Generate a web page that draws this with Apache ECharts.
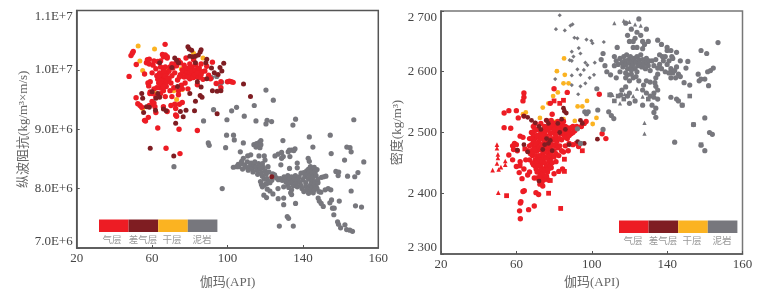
<!DOCTYPE html>
<html><head><meta charset="utf-8">
<style>html,body{margin:0;padding:0;background:#fff}#c{width:769px;height:294px}</style>
<script src="https://cdn.jsdelivr.net/npm/echarts@6/dist/echarts.min.js"></script>
</head><body><div id="c"></div>
<script>
const legendNames = ['气层','差气层','干层','泥岩'];
const xTickLabels = ['20','60','100','140','160'];
const leftYLabels = ['7.0E+6','8.0E+6','9.0E+6','1.0E+7','1.1E+7'];
const rightYLabels = ['2 300','2 400','2 500','2 600','2 700'];

// Left panel: gamma (API), impedance (1E+6)
const leftGas = [[47.8,9.89],[48.8,10.24],[49.5,10.28],[50,10.31],[51.6,10.09],[51.5,9.53],[52.4,9.43],[53.6,9.4],[54.5,9.37],[56,9.15],[56.5,9.14],[56,9.93],[58,9.2],[57,10.12],[57.5,10.17],[58.5,10.18],[58.5,10.1],[57.8,9.78],[58.2,9.73],[58.8,9.6],[59,9.63],[60,9.47],[60.5,9.42],[61,9.44],[61.5,9.38],[62,9.55],[60.5,10.08],[61,10.15],[62,10.02],[62.5,9.9],[63,9.84],[63,10.14],[63.5,9.78],[64,9.95],[64,9.7],[64.5,10.05],[64.5,9.6],[65,9.88],[65,9.8],[65.5,9.92],[65.5,9.75],[66,9.85],[66,10],[66,9.65],[66.5,9.9],[66.5,9.78],[67,9.83],[67,10.05],[67,9.55],[67.5,9.88],[67.5,9.72],[68,9.95],[68,9.8],[68,10.2],[65.5,10.26],[66,10.22],[67,10.25],[68,10.22],[64.5,10.15],[66.9,10.43],[63,9.02],[74.3,9],[84,8.98],[67.4,8.68],[74.8,8.59],[69,9.85],[69,9.98],[69.5,10.05],[69.5,9.65],[70,9.78],[70.5,9.9],[70.5,9.55],[71,10.03],[71.5,9.7],[72,9.95],[72,9.42],[72.5,9.35],[72.5,9.24],[73,9.22],[73,10.07],[73.5,9.83],[74,10.16],[74,9.65],[74.5,9.42],[75,10.12],[75,9.92],[75.5,9.74],[76,9.68],[76.5,9.96],[77,10.08],[77,9.88],[77.5,9.78],[78,10.2],[78,9.95],[78.5,9.9],[79,10.02],[79,9.68],[79.5,9.93],[80,9.85],[80,10.1],[80.5,9.98],[81,9.9],[81,10.05],[81.5,9.95],[82,10.17],[82,9.87],[82.5,9.98],[83,9.92],[83,10.08],[83.5,9.97],[84,9.9],[84,9.75],[84.5,10.02],[85,9.95],[85.5,9.88],[86,10.1],[86.5,9.97],[87,9.84],[88,9.98],[89,10.06],[90,9.91],[91,9.85],[92,10.13],[94,9.77],[96.5,9.7],[96.5,9.8],[100,9.8],[101,9.81],[102,9.8],[103,9.79],[74,9.58],[76,9.45],[70,9.4],[68,9.3],[66,9.38],[62.5,9.7],[60,9.95],[59,9.8],[62,9.28],[58.5,9.4],[64.5,9.82],[65,9.93],[65.5,9.68],[66.5,9.97],[67,9.9],[67,9.75],[68.5,9.86],[63.5,9.9],[64,9.78],[66,9.72],[78.5,9.98],[79.5,10.03],[80,9.95],[81,9.98],[81.5,9.87],[82.5,9.92],[83,10],[84,9.95],[84.5,9.87],[85,10.03],[86,9.92],[79,9.88],[77.5,10.03],[72,10.1],[70.5,10.1],[61,9.68],[60,9.6],[74.5,9.88],[76,10]];
const leftPoor = [[54.5,9.6],[55,9.52],[55.5,9.28],[57,9.38],[58.5,9.37],[59,8.68],[61.8,9.32],[63,9.6],[64,9.54],[66,9.34],[67.5,9.31],[71.5,8.55],[72.5,9.1],[73.5,9.72],[75,9.3],[76.5,9.21],[78,9.32],[82.5,9.31],[83,9.47],[85.5,9.57],[86.5,9.54],[80,9.6],[79,10.39],[79.7,10.35],[81,10.33],[85.5,10.3],[86,10.34],[84.5,10.25],[80,10.23],[81.5,10.22],[83,10.23],[83,10.12],[89,10.18],[88.5,10.12],[91.5,10.03],[93,9.95],[96,10.04],[97,9.98],[98,10.11],[95,9.92],[92,9.65],[94.5,9.64],[96.5,9.65],[94.5,9.26],[108.5,9.76],[112.2,9.55],[123.5,8.2],[72,10.2],[73,10.16],[74,10.12],[70.5,10.04],[64,10.12],[60,9.63],[62,9.52],[86,9.71],[84,9.8],[89,9.85]];
const leftDry = [[52.6,10.4],[61.3,10.35],[53.5,10.15],[55,9.99],[82,10.28],[68,10.02],[75.5,10.02],[76,9.67],[71.5,9.65],[62,9.6],[73,9.5],[55,9.35],[87,10.2]];
const leftMud = [[92.6,9.33],[87.3,9.14],[99.7,9.16],[102.2,9.31],[104.8,9.37],[114.2,9.4],[124.3,9.49],[108.9,9.22],[115.1,9.14],[121,9.15],[120.4,9.09],[123.4,9.13],[136.1,9.17],[134.7,9.07],[167,9.16],[99.5,8.9],[103.2,8.9],[103.6,8.82],[89.8,8.77],[90.3,8.73],[99,8.69],[108.4,8.77],[106.8,8.62],[129.4,8.81],[143.4,8.87],[154.5,8.9],[145.3,8.7],[155,8.59],[163.3,8.7],[165,8.69],[165.6,8.62],[162.1,8.48],[172.3,8.45],[169.2,8.27],[157.5,8.29],[158.7,8.22],[163.7,8.21],[152.2,8.21],[149.9,8.19],[165.6,7.96],[167.9,7.71],[171.1,7.69],[159.3,7.79],[97.2,8],[127.5,7.37],[134.9,7.37],[131.7,7.53],[132.4,7.5],[129.8,7.73],[136.1,7.75],[126.9,7.83],[129.8,7.84],[119.3,7.89],[120.7,7.85],[121.1,7.99],[122.5,7.96],[124.1,7.91],[148.1,7.84],[148.7,7.79],[149.7,7.75],[150.8,7.7],[155.2,7.81],[154.3,7.76],[155.7,7.67],[156.6,7.67],[156.4,7.56],[158.4,7.44],[158.9,7.4],[160,7.34],[162.3,7.39],[163.2,7.31],[164.9,7.3],[166.3,7.28],[149.5,7.94],[151.8,7.98],[153.4,8],[154.8,7.98],[103.1,8.36],[104.8,8.37],[105.7,8.41],[107.5,8.46],[108.4,8.51],[110.7,8.55],[112.3,8.57],[116.7,8.55],[119.5,8.55],[119.9,8.48],[114,8.74],[115.4,8.76],[116.9,8.78],[117.7,8.81],[115.1,8.7],[116.3,8.73],[117.2,8.69],[117.7,8.74],[106,8.37],[107,8.42],[108,8.33],[109,8.4],[110,8.36],[110.5,8.45],[111,8.31],[112,8.38],[112.5,8.43],[113,8.34],[113.5,8.28],[114,8.4],[114.5,8.45],[115,8.36],[115.5,8.31],[116,8.24],[116.5,8.42],[117,8.38],[117.5,8.33],[118,8.27],[118.5,8.21],[118.5,8.42],[119,8.36],[119.5,8.16],[120,8.3],[120.5,8.24],[120.5,8.08],[121,8.17],[121.5,8.37],[122,8.12],[122,8.28],[117.5,8.12],[118,8.07],[118.5,8.03],[119.5,8.06],[121,8.09],[122.5,8.1],[123.5,8.14],[124,8.25],[125,8.23],[126,8.18],[127,8.15],[125.2,8.55],[126.9,8.58],[128.7,8.61],[132.2,8.62],[134,8.65],[135.8,8.67],[128.7,8.51],[129.6,8.54],[133.1,8.54],[132.8,8.65],[135.2,8.64],[128.3,8.4],[132.9,8.34],[137,8.43],[137,8.35],[142.8,8.51],[143.4,8.46],[128,8.17],[129,8.14],[130,8.2],[130.5,8.15],[131,8.11],[131.5,8.18],[132,8.22],[132.5,8.14],[133,8.18],[133.5,8.1],[134,8.2],[134.5,8.13],[135,8.05],[135.5,8.17],[136,8.22],[136.5,8.1],[137,8.03],[137.5,8.16],[138,8.2],[138.5,8.1],[139,8.05],[139,8.26],[139.5,8],[140,8.15],[140.5,8.27],[140.5,7.95],[141,8.2],[141.5,8.1],[141.5,8.04],[142,8.3],[142,7.98],[142.5,8.24],[143,8.33],[143,8.16],[143,7.92],[143.5,8.28],[143.5,8.02],[144,8.37],[144,8.21],[144,8.06],[144.5,8.1],[144.5,7.97],[145,8.32],[145,8.26],[145,8.14],[145,8.02],[145.5,7.93],[145.5,8.2],[146,8.36],[146,8.08],[146,7.98],[146.5,8.28],[146.5,8.12],[147,8.22],[147,8.04],[147.5,8.32],[147.5,8],[148,8.1],[148,8.16],[148.5,7.95],[132,8.06],[134,7.98],[132.5,8.02],[126.8,8],[129.8,8.03],[133.5,7.93],[134,7.9],[91.6,9.87],[94.3,9.89],[96.9,9.79],[96,9.75],[71.6,8.37],[120.4,9.66],[151,8.2],[159,8.28],[167.5,8.2]];

// Right panel: gamma (API), density (kg/m3)
const rightGasDot = [[62.1,2358],[61.7,2371],[66.5,2373],[69.5,2379],[62.4,2386],[62.1,2384],[63.5,2403],[64.2,2404],[70.4,2401],[71.8,2398],[53.5,2532],[56,2536],[60,2536],[53.5,2508],[57,2507],[61,2524],[64,2527],[62,2494],[63.5,2492],[56,2463],[58,2478],[58.5,2472],[59,2482],[60,2480],[60.5,2470],[58,2455],[60,2444],[62,2452],[61.5,2434],[63,2424],[64,2440],[65,2455],[66,2470],[66,2430],[67,2435],[67,2490],[68,2500],[68,2480],[68.5,2462],[69,2447],[69,2510],[69.5,2475],[69.5,2425],[70,2490],[70,2455],[70.5,2505],[70.5,2440],[71,2470],[71,2480],[71,2425],[71.5,2495],[71.5,2460],[72,2450],[72,2485],[72,2435],[72.5,2472],[72.5,2415],[73,2500],[73,2445],[73,2460],[73,2425],[73.5,2480],[73.5,2435],[74,2465],[74,2452],[74,2412],[74.5,2490],[74.5,2440],[75,2510],[75,2472],[75,2425],[75.5,2458],[75.5,2495],[76,2445],[76,2520],[76,2480],[76.5,2505],[76.5,2435],[77,2465],[77,2490],[77,2422],[77.5,2512],[77.5,2452],[78,2498],[78,2475],[78.5,2442],[78.5,2520],[79,2508],[79,2460],[79.5,2488],[80,2515],[80,2470],[80,2432],[80.5,2498],[81,2510],[81,2480],[81,2452],[81.5,2503],[82,2518],[82,2490],[82.5,2462],[82.5,2436],[83,2508],[83,2478],[83.5,2498],[84,2512],[84,2488],[84.5,2440],[85,2503],[85,2468],[85.5,2495],[86,2510],[86,2478],[86.5,2500],[87,2490],[88,2505],[88,2482],[89,2498],[90,2510],[90,2480],[91,2503],[92,2510],[93,2477],[94.5,2510],[96,2515],[97,2518],[104,2563],[87,2566],[80,2572],[64,2565],[64,2558],[63.5,2552],[105.5,2498],[107.5,2490],[87.5,2470],[72,2492],[74,2503],[76,2470],[78,2455],[80,2490],[70,2515],[71,2505],[73,2515],[69,2495],[68,2470],[67,2455],[79,2530],[78,2548],[85,2518],[67,2478],[67.5,2465],[68,2490],[68.5,2450],[69,2468],[69,2485],[69.5,2502],[70,2445],[70,2472],[70.5,2462],[70.5,2482],[71,2452],[71,2435],[71,2495],[71.5,2445],[72,2462],[72,2476],[72,2505],[72.5,2428],[72.5,2455],[73,2490],[73,2472],[73,2438],[73.5,2452],[73.5,2418],[74,2478],[74,2432],[74,2495],[74.5,2460],[74.5,2422],[75,2485],[75,2450],[75,2438],[75.5,2468],[75.5,2503],[76,2458],[76,2428],[76,2492],[76.5,2478],[76.5,2445],[77,2475],[77,2440],[77,2505],[77.5,2462],[77.5,2485],[78,2445],[78,2510],[78.5,2468],[78.5,2490],[79,2480],[79,2450],[79.5,2515],[79.5,2500],[80,2460],[80,2505],[80.5,2478],[81,2495],[81,2465],[81.5,2485],[82,2505],[82,2475],[83,2490],[83,2515],[84,2500],[84,2470],[85,2510],[86,2492],[87,2508],[88,2495],[89,2508],[90,2500]];
const rightGasSquare = [[54.8,2396],[77.1,2400],[83.5,2375],[80,2552],[83,2548],[85,2553],[95,2470],[92,2482],[85.5,2436],[85.5,2456],[78,2421],[62,2445],[64.5,2473]];
const rightGasTri = [[50.4,2401],[47.4,2438],[49.7,2449],[50.6,2439],[51.8,2443],[49.7,2480],[49.7,2474],[50.2,2464],[50.2,2458],[54.1,2453],[54.1,2447]];
const rightPoor = [[64,2527],[66,2525],[68,2520],[70,2516],[72,2510],[76,2520],[77,2515],[85,2540],[85.5,2535],[86.5,2532],[94,2520],[95,2515],[103,2489],[96,2482],[94,2482],[92.5,2485],[60.5,2471],[66,2468],[64,2480],[74,2472],[76,2490],[77,2482],[75,2480],[78,2487],[72,2420],[79,2470],[83,2500],[86,2505],[88,2480],[73,2505],[82,2515],[84,2522]];
const rightDry = [[85.3,2622],[81.5,2601],[85.7,2595],[85,2581],[87.7,2581],[82,2566],[79.5,2560],[77,2548],[74,2541],[65,2533],[63.5,2530],[72.5,2524],[91,2519],[92.5,2543],[95,2543],[97.5,2552],[100.5,2514],[102.5,2524],[85,2522],[81,2518],[75,2497]];
const rightMudDot = [[103.2,2537],[96.3,2534],[97.2,2531],[98.1,2534],[109,2534],[110.4,2528],[111.7,2523],[106,2505],[92.4,2506],[94,2482],[102.7,2572],[115.4,2562],[113,2618],[114,2612],[115,2622],[116,2615],[116.5,2608],[117,2625],[117.5,2618],[118,2612],[118.5,2628],[119,2605],[119.5,2620],[120,2614],[120.5,2625],[121,2608],[121.5,2618],[122,2612],[122.5,2622],[123,2605],[123.5,2616],[124,2625],[124.5,2610],[125,2620],[125.5,2614],[126,2628],[126.5,2608],[127,2620],[127.5,2612],[128,2618],[128.5,2605],[129,2622],[129.5,2614],[130,2610],[130.5,2618],[131,2602],[132,2618],[133,2610],[134,2620],[135,2606],[135,2596],[134,2590],[133.5,2582],[134,2576],[135,2570],[133,2565],[131,2560],[129,2565],[127,2570],[127.5,2578],[129,2585],[131,2583],[133,2558],[135,2555],[134,2540],[133,2533],[134,2525],[132,2545],[136,2612],[137,2605],[137.5,2625],[138,2618],[136,2628],[140,2640],[139,2625],[140,2612],[141,2618],[142,2635],[142,2605],[142.5,2625],[143,2598],[144,2602],[145,2608],[146,2596],[147,2592],[144.5,2590],[141,2598],[139,2600],[142,2590],[143,2622],[145,2632],[147,2618],[118,2590],[119,2595],[120,2585],[121,2596],[122,2590],[123.5,2592],[125,2585],[124,2600],[121,2603],[118,2598],[116,2570],[118,2575],[119,2560],[120,2565],[115,2600],[113,2590],[112,2610],[110,2595],[107,2610],[108,2600],[105,2620],[106,2630],[112,2625],[120,2548],[123,2552],[127,2545],[110,2562],[145,2555],[142,2558],[148,2545],[151,2617],[152,2578],[156.5,2596],[157,2585],[158,2588],[160,2588],[161.5,2600],[163,2602],[164.5,2606],[162,2577],[158,2635],[161,2630],[167,2648],[150,2606],[149,2582],[146,2552],[144,2484],[154,2513],[158,2479],[160,2470],[160,2524],[162.5,2500],[164,2497],[118,2680],[121,2670],[119,2660],[122,2650],[124,2665],[125,2687],[126,2660],[127,2650],[128,2645],[129,2670],[124,2640],[122,2640],[127,2638],[123,2655],[120,2650],[113.5,2640],[130,2650],[135,2652],[137,2645],[140,2635]];
const rightMudSmall = [[83,2693],[81,2670],[85.7,2668],[88.7,2676],[89.8,2678],[90.8,2656],[92.4,2655],[97.2,2653],[99.8,2651],[100.4,2647],[106.4,2649],[93.1,2639],[89.4,2633],[94,2630],[90.3,2625],[88.3,2619],[89.4,2618],[96.6,2615],[97.7,2611],[101.6,2615],[92.4,2604],[95.8,2603],[94,2595],[89.4,2594],[101.2,2595],[98.9,2590],[96.6,2581],[94,2576],[89.4,2578],[80.6,2588],[92.8,2563]];
const rightMudTri = [[112,2680],[117,2684],[120,2682],[123,2678],[126,2676],[128,2516],[128,2498],[111,2562],[115,2548],[122,2560],[124,2572],[127,2559],[109.5,2563],[117.5,2563]];
const rightMudSquare = [[109.5,2562],[112,2552],[114,2560],[117,2555],[130,2555],[152,2560],[148,2545],[154,2513],[158,2480]];

const C = {gas:'#ed1c24', poor:'#7f1d22', dry:'#fbb321', mud:'#77777d'};
const ink = '#454545';
const latin = '"Liberation Serif","Noto Sans CJK SC",serif';

function scat(g, data, color, symbol, size){
  return {type:'scatter', xAxisIndex:g, yAxisIndex:g, data, silent:true,
    symbol, symbolSize:size, itemStyle:{color, opacity:1}};
}
function xAxis(g, gridIdx, gap){
  return {gridIndex:gridIdx, type:'value', min:20, max:180, interval:40,
    name:'伽玛(API)', nameLocation:'middle', nameGap:gap,
    nameTextStyle:{color:'#666',fontFamily:latin,fontSize:13},
    axisLine:{show:true,onZero:false,lineStyle:{color:'#555',width:1.5}},
    axisTick:{show:true,inside:true,length:3,lineStyle:{color:'#555'}},
    splitLine:{show:false},
    axisLabel:{color:ink,fontFamily:latin,fontSize:13,margin:4,
      formatter:(v)=>xTickLabels[Math.round((v-20)/40)]}};
}
function yAxis(gridIdx, min, max, step, labels, name, gap){
  return {gridIndex:gridIdx, type:'value', min, max, interval:step,
    name, nameLocation:'middle', nameGap:gap, nameRotate:90,
    nameTextStyle:{color:'#666',fontFamily:latin,fontSize:13},
    axisLine:{show:true,onZero:false,lineStyle:{color:'#555',width:1.5}},
    axisTick:{show:true,inside:true,length:3,lineStyle:{color:'#555'}},
    splitLine:{show:false},
    axisLabel:{color:ink,fontFamily:latin,fontSize:13,margin:4,
      verticalAlignMinLabel:'bottom',verticalAlignMaxLabel:'top',
      formatter:(v)=>labels[Math.round((v-min)/step)]}};
}
function legend(x0, y0, w, lx){
  const cols=[C.gas,C.poor,C.dry,C.mud], out=[];
  cols.forEach((c,i)=>{
    out.push({type:'rect',shape:{x:x0+i*w,y:y0,width:w,height:12.5},style:{fill:c},silent:true});
    out.push({type:'text',x:lx[i],y:y0+19.5,silent:true,
      style:{text:legendNames[i],fill:'#999',font:'9.5px "Noto Sans CJK SC"',align:'center',verticalAlign:'middle'}});
  });
  return out;
}
const chart = echarts.init(document.getElementById('c'),null,{renderer:'canvas'});
chart.setOption({
  animation:false, backgroundColor:'#fff',
  grid:[{left:76.7,top:10.5,width:301.6,height:245.5,show:true,borderColor:'#555',borderWidth:1.5},
        {left:441,top:11,width:301.5,height:246,show:true,borderColor:'#777',borderWidth:1.5}],
  xAxis:[xAxis(0,0,28),xAxis(1,1,22)],
  yAxis:[yAxis(0,7,11,1,leftYLabels,'纵波阻抗(kg/m³×m/s)',47),
         yAxis(1,2300,2700,100,rightYLabels,'密度(kg/m³)',34)],
  series:[
    scat(0,leftMud,C.mud,'circle',5.2),
    scat(0,leftDry,C.dry,'circle',5),
    scat(0,leftGas,C.gas,'circle',5.4),
    scat(0,leftPoor,C.poor,'circle',5),
    scat(1,rightDry,C.dry,'circle',4.8),
    scat(1,rightGasDot,C.gas,'circle',5.4),
    scat(1,rightGasSquare,C.gas,'rect',4.8),
    scat(1,rightGasTri,C.gas,'triangle',4.6),
    scat(1,rightPoor,C.poor,'circle',4.8),
    scat(1,rightMudDot,C.mud,'circle',5.2),
    scat(1,rightMudSmall,C.mud,'diamond',4.2),
    scat(1,rightMudTri,C.mud,'triangle',4.2),
    scat(1,rightMudSquare,C.mud,'rect',4.6)
  ],
  graphic:legend(99,219.5,29.6,[112,143,172,202]).concat(legend(619,220.5,29.6,[633,663,692,722]))
});
</script></body></html>
